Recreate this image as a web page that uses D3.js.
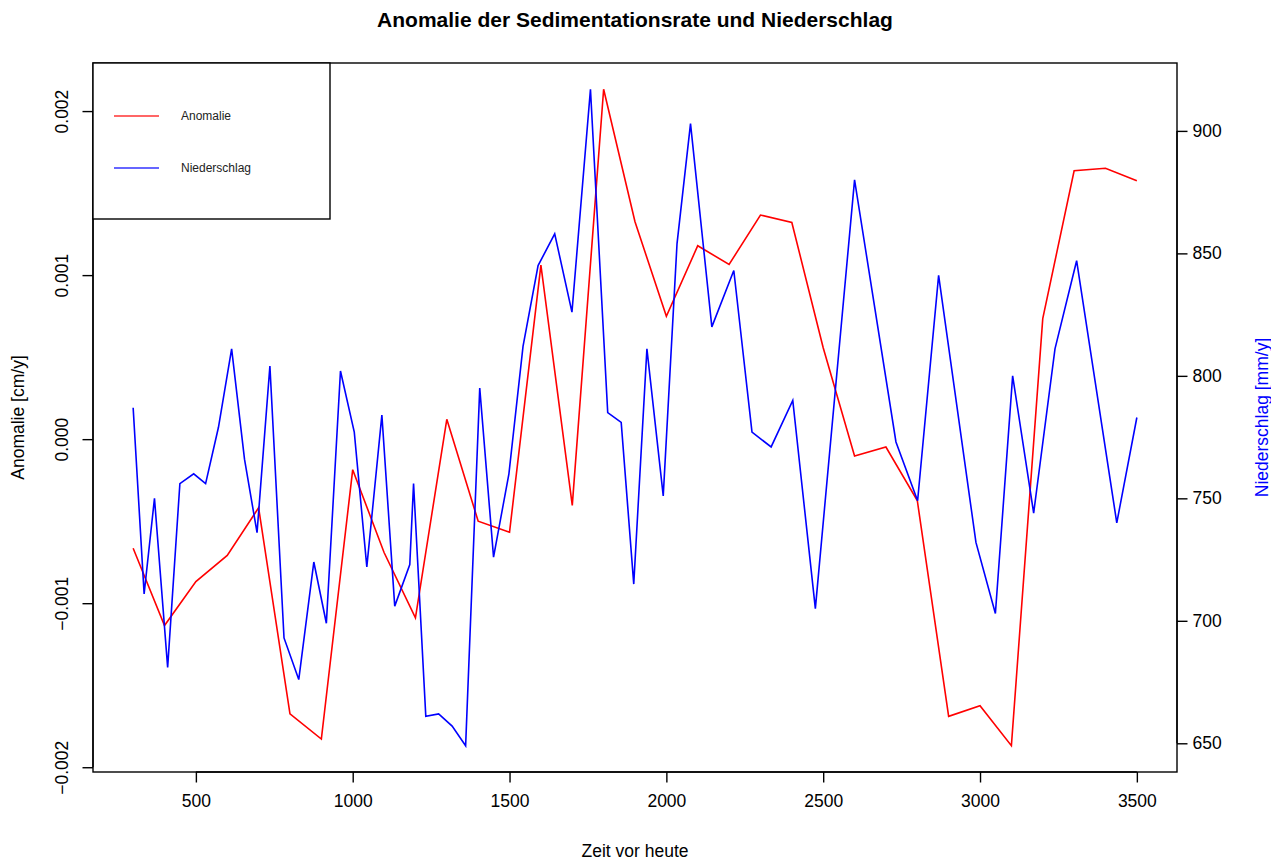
<!DOCTYPE html>
<html>
<head>
<meta charset="utf-8">
<script src="https://cdn.jsdelivr.net/npm/d3@7"></script>
<style>
  body { margin: 0; background: #fff; }
  svg { display: block; font-family: "Liberation Sans", Arial, Helvetica, sans-serif; }
</style>
</head>
<body>
<svg id="chart" width="1271" height="860"></svg>
<script>
// Anomalie der Sedimentationsrate (red), one value per century
const anomalyYears = [300, 400, 500, 600, 700, 800, 900, 1000, 1100, 1200, 1300, 1400, 1500, 1600, 1700, 1800, 1900,
  2000, 2100, 2200, 2300, 2400, 2500, 2600, 2700, 2800, 2900, 3000, 3100, 3200, 3300, 3400, 3500]
const anomalyValues = [-0.000665, -0.001136, -0.000868, -0.000709, -0.000418, -0.001675, -0.001828, -0.000186,
  -0.000691, -0.001089, 0.000121, -0.0005, -0.000567, 0.001061, -0.000404, 0.002133, 0.001325,
  0.000749, 0.001179, 0.001065, 0.001366, 0.001321, 0.000557, -0.000103, -0.000048, -0.000374, -0.00169,
  -0.001625, -0.001869, 0.000735, 0.001636, 0.001651, 0.001575]

// Niederschlag (blue), irregular sampling
const rainYears = [300, 335, 368, 410, 449, 493, 531, 572, 614, 655, 695, 736, 781, 828, 876, 916, 961, 1005, 1045,
  1093, 1134, 1182, 1194, 1233, 1274, 1317, 1360, 1405, 1449, 1498, 1543, 1591, 1644, 1699, 1758, 1813, 1856,
  1896, 1938, 1990, 2034, 2077, 2145, 2215, 2273, 2334, 2403, 2475, 2600, 2732, 2801, 2868, 2987, 3049, 3104,
  3171, 3239, 3308, 3436, 3500]
const rainValues = [787, 711, 750, 681, 756, 760, 756, 779, 811, 766, 736, 804, 693, 676, 724, 699, 802, 777, 722,
  784, 706, 723, 756, 661, 662, 657, 649, 795, 726, 760, 812, 845, 858, 826, 917, 785, 781,
  715, 811, 751, 854, 903, 820, 843, 777, 771, 790, 705, 880, 773, 749, 841, 732, 703, 800,
  744, 811, 847, 740, 783]

const xTicks = [500, 1000, 1500, 2000, 2500, 3000, 3500]
const leftTicks = [-0.002, -0.001, 0, 0.001, 0.002]
const rightTicks = [650, 700, 750, 800, 850, 900]

const legendItems = [
  { label: 'Anomalie', color: '#ff0000' },
  { label: 'Niederschlag', color: '#0000ff' }
]

// R style axis range: data extent padded by 4% on each side
function padded (values) {
  const [lo, hi] = d3.extent(values)
  const d = (hi - lo) * 0.04
  return [lo - d, hi + d]
}

const plot = { left: 93, right: 1177, top: 63, bottom: 772 }
const fontSize = 17.5
const tickLen = 10.5

const svg = d3.select('#chart')

const xScale = d3.scaleLinear().domain(padded(anomalyYears.concat(rainYears))).range([plot.left, plot.right])
const yLeft = d3.scaleLinear().domain(padded(anomalyValues)).range([plot.bottom, plot.top])
const yRight = d3.scaleLinear().domain(padded(rainValues)).range([plot.bottom, plot.top])

const fmtLeft = v => d3.format('.3f')(v).replace('-', '\u2212')

// lines
const anomalyLine = d3.line().x(d => xScale(d[0])).y(d => yLeft(d[1]))
const rainLine = d3.line().x(d => xScale(d[0])).y(d => yRight(d[1]))

svg.append('path')
  .datum(anomalyYears.map((t, i) => [t, anomalyValues[i]]))
  .attr('d', anomalyLine)
  .attr('fill', 'none').attr('stroke', '#ff0000').attr('stroke-width', 1.6)

svg.append('path')
  .datum(rainYears.map((t, i) => [t, rainValues[i]]))
  .attr('d', rainLine)
  .attr('fill', 'none').attr('stroke', '#0000ff').attr('stroke-width', 1.6)

// frame
svg.append('rect')
  .attr('x', plot.left).attr('y', plot.top)
  .attr('width', plot.right - plot.left).attr('height', plot.bottom - plot.top)
  .attr('fill', 'none').attr('stroke', '#000').attr('stroke-width', 1.4)

// axes
const xAxis = d3.axisBottom(xScale).tickValues(xTicks).tickSize(tickLen).tickPadding(12).tickFormat(d3.format('d'))
const leftAxis = d3.axisLeft(yLeft).tickValues(leftTicks).tickSize(tickLen).tickFormat(fmtLeft)
const rightAxis = d3.axisRight(yRight).tickValues(rightTicks).tickSize(tickLen).tickPadding(5).tickFormat(d3.format('d'))

function styleAxis (g) {
  g.select('.domain').attr('stroke', '#000').attr('stroke-width', 1.4)
  g.selectAll('.tick line').attr('stroke', '#000').attr('stroke-width', 1.4)
  g.selectAll('.tick text').attr('fill', '#000').attr('font-size', fontSize)
  g.attr('font-family', null)
}

svg.append('g')
  .attr('transform', `translate(0,${plot.bottom})`)
  .call(xAxis)
  .call(styleAxis)
  .call(g => g.select('.domain').attr('d', `M${xScale(xTicks[0])},0H${xScale(xTicks[xTicks.length - 1])}`))

svg.append('g')
  .attr('transform', `translate(${plot.left},0)`)
  .call(leftAxis)
  .call(styleAxis)
  .call(g => g.select('.domain').attr('d', `M0,${yLeft(leftTicks[0])}V${yLeft(leftTicks[leftTicks.length - 1])}`))
  .call(g => g.selectAll('.tick text')
    .attr('x', null).attr('dy', null)
    .attr('text-anchor', 'middle')
    .attr('transform', 'translate(-31,0) rotate(-90)')
    .attr('dy', '0.35em'))

svg.append('g')
  .attr('transform', `translate(${plot.right},0)`)
  .call(rightAxis)
  .call(styleAxis)
  .call(g => g.select('.domain').attr('d', `M0,${yRight(rightTicks[0])}V${yRight(rightTicks[rightTicks.length - 1])}`))

// titles
svg.append('text')
  .attr('x', (plot.left + plot.right) / 2).attr('y', 20).attr('dy', '0.35em')
  .attr('text-anchor', 'middle').attr('font-size', 21).attr('font-weight', 'bold')
  .text('Anomalie der Sedimentationsrate und Niederschlag')

svg.append('text')
  .attr('x', (plot.left + plot.right) / 2).attr('y', 851).attr('dy', '0.35em')
  .attr('text-anchor', 'middle').attr('font-size', fontSize)
  .text('Zeit vor heute')

svg.append('text')
  .attr('transform', `translate(18,${(plot.top + plot.bottom) / 2}) rotate(-90)`)
  .attr('dy', '0.35em').attr('text-anchor', 'middle').attr('font-size', fontSize)
  .text('Anomalie [cm/y]')

svg.append('text')
  .attr('transform', `translate(1262,${(plot.top + plot.bottom) / 2}) rotate(-90)`)
  .attr('dy', '0.35em').attr('text-anchor', 'middle').attr('font-size', fontSize)
  .attr('fill', '#0000ff')
  .text('Niederschlag [mm/y]')

// legend
const legend = svg.append('g').attr('transform', `translate(${plot.left},${plot.top})`)
legend.append('rect')
  .attr('width', 237).attr('height', 156)
  .attr('fill', '#fff').attr('stroke', '#000').attr('stroke-width', 1.4)

const rows = legend.selectAll('g.item').data(legendItems).join('g')
  .attr('class', 'item')
  .attr('transform', (d, i) => `translate(0,${53 + i * 52})`)
rows.append('line')
  .attr('x1', 21).attr('x2', 66)
  .attr('stroke', d => d.color).attr('stroke-width', 1.6).attr('stroke-opacity', 0.8)
rows.append('text')
  .attr('x', 88).attr('dy', '0.35em').attr('font-size', 12).attr('fill', '#222')
  .text(d => d.label)
</script>
</body>
</html>
